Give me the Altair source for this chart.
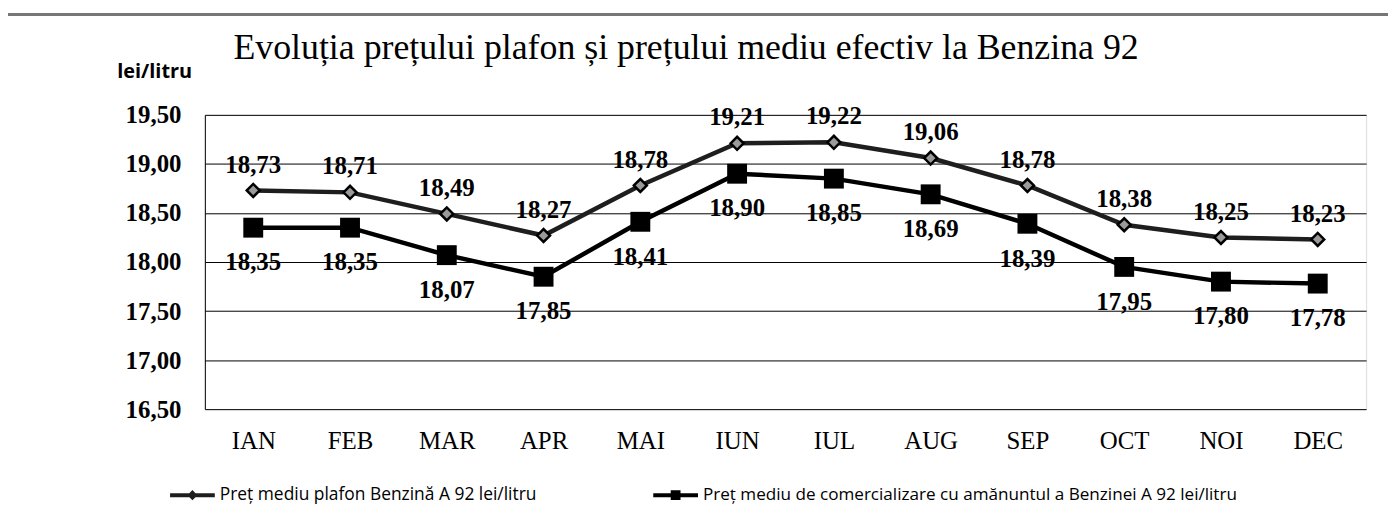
import altair as alt
import pandas as pd

months = ["IAN", "FEB", "MAR", "APR", "MAI", "IUN", "IUL", "AUG", "SEP", "OCT", "NOI", "DEC"]
plafon = [18.73, 18.71, 18.49, 18.27, 18.78, 19.21, 19.22, 19.06, 18.78, 18.38, 18.25, 18.23]
pret = [18.35, 18.35, 18.07, 17.85, 18.41, 18.90, 18.85, 18.69, 18.39, 17.95, 17.80, 17.78]
name_plafon = "Preț mediu plafon Benzină A 92 lei/litru"
name_pret = "Preț mediu de comercializare cu amănuntul a Benzinei A 92 lei/litru"
y_ticks = [16.5, 17.0, 17.5, 18.0, 18.5, 19.0, 19.5]
title_text = "Evoluția prețului plafon și prețului mediu efectiv la Benzina 92"
y_title = "lei/litru"

df_a = pd.DataFrame({"luna": months, "valoare": plafon, "serie": name_plafon})
df_b = pd.DataFrame({"luna": months, "valoare": pret, "serie": name_pret})

SERIF = "Liberation Serif"
SANS = "Open Sans"

x_enc = alt.X("luna:O", sort=months,
              scale=alt.Scale(type="point", padding=0.5),
              axis=alt.Axis(title=None, labelAngle=0, labelFont=SERIF, labelFontSize=25,
                            labelFontWeight="normal", labelColor="black", labelPadding=20,
                            domain=False, ticks=False, grid=False))
y_enc = alt.Y("valoare:Q",
              scale=alt.Scale(domain=[16.5, 19.5], nice=False, zero=False),
              axis=alt.Axis(title=y_title, titleAngle=0, titleX=-51, titleY=-44,
                            titleAlign="center", titleBaseline="middle",
                            titleFont=SANS, titleFontSize=20, titleFontWeight="bold",
                            titleColor="black",
                            values=y_ticks,
                            labelExpr="replace(format(datum.value, '.2f'), '.', ',')",
                            labelFont=SERIF, labelFontSize=25, labelFontWeight="bold",
                            labelColor="black", labelPadding=24,
                            ticks=False, domain=True, domainColor="black", domainWidth=1,
                            grid=True, gridColor="black", gridWidth=1, gridOpacity=1))

path_a = "M-1,0H1M0,-0.1L0.1,0L0,0.1L-0.1,0Z"
path_b = "M-1,0H1M-0.13,-0.13H0.13V0.13H-0.13Z"

line_a = alt.Chart(df_a).mark_line(strokeWidth=4.5).encode(
    x=x_enc, y=y_enc,
    color=alt.Color("serie:N", scale=alt.Scale(domain=[name_plafon], range=["#1e1e1e"]),
                    legend=alt.Legend(title=None, orient="none", legendX=-37, legendY=358,
                                      symbolType=path_a, symbolSize=2025, symbolStrokeWidth=4,
                                      labelFont=SANS, labelFontSize=17.5, labelColor="black",
                                      labelOffset=3, labelLimit=0, padding=0)))
line_b = alt.Chart(df_b).mark_line(strokeWidth=4.5).encode(
    x=x_enc, y=y_enc,
    stroke=alt.Stroke("serie:N", scale=alt.Scale(domain=[name_pret], range=["black"]),
                      legend=alt.Legend(title=None, orient="none", legendX=449, legendY=358,
                                        symbolType=path_b, symbolSize=2025, symbolStrokeWidth=4,
                                        labelFont=SANS, labelFontSize=17.2, labelColor="black",
                                        labelOffset=3, labelLimit=0, padding=0)))

pts_a = alt.Chart(df_a).mark_point(shape="diamond", size=170, filled=True,
                                   fill="#9a9a9a", stroke="black", strokeWidth=2.5,
                                   opacity=1).encode(x=x_enc, y=y_enc)
pts_b = alt.Chart(df_b).mark_point(shape="square", size=400, filled=True,
                                   color="black", opacity=1).encode(x=x_enc, y=y_enc)

lab_expr = "replace(format(datum.valoare, '.2f'), '.', ',')"
txt_a = alt.Chart(df_a).transform_calculate(lab=lab_expr).mark_text(
    font=SERIF, fontSize=25, fontWeight="bold", color="black", dy=-26, baseline="middle"
).encode(x=x_enc, y=y_enc, text="lab:N")
txt_b = alt.Chart(df_b).transform_calculate(lab=lab_expr).mark_text(
    font=SERIF, fontSize=25, fontWeight="bold", color="black", dy=35, baseline="middle"
).encode(x=x_enc, y=y_enc, text="lab:N")

frame_top = alt.Chart(df_a).mark_rule(color="#777", strokeWidth=2).encode(
    x=alt.value(-199), x2=alt.value(1190), y=alt.value(-101))
frame_left = alt.Chart(df_a).mark_rule(color="black", strokeWidth=2).encode(
    x=alt.value(-199), y=alt.value(-101), y2=alt.value(410))

chart = alt.layer(frame_top, frame_left, line_a, line_b, pts_a, pts_b, txt_a, txt_b).resolve_scale(
    color="independent", stroke="independent"
).properties(
    width=1168, height=296,
    autosize=alt.AutoSizeParams(type="none"),
    padding={"left": 198, "top": 106, "right": 22, "bottom": 109},
    title=alt.TitleParams(title_text, font=SERIF, fontSize=36, fontWeight="normal",
                          color="black", anchor="middle", frame="group", dx=-100,
                          offset=-82, baseline="alphabetic"),
).configure_view(stroke=None).configure(background="white")

chart.save("out.html", embed_options={"renderer": "svg", "actions": False})
